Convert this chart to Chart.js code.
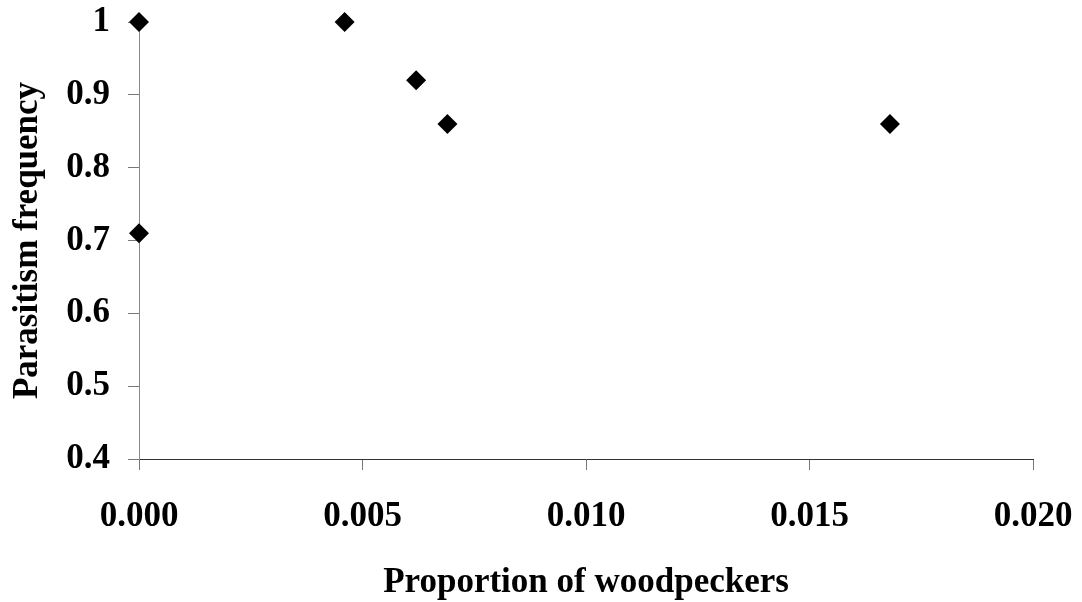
<!DOCTYPE html>
<html>
<head>
  <title>Parasitism vs woodpeckers</title>
  <script src="https://cdn.jsdelivr.net/npm/chart.js"></script>
  <style>
    html, body { margin: 0; padding: 0; background: #fff; }
    #wrap { width: 1082px; height: 602px; }
  </style>
</head>
<body>
  <div id="wrap"><canvas id="plot"></canvas></div>

  <script>
    const xValues = [0, 0, 0.0046, 0.0062, 0.0069, 0.0168];
    const yValues = [1, 0.71, 1, 0.92, 0.86, 0.86];
    const xTickLabels = ['0.000', '0.005', '0.010', '0.015', '0.020'];
    const yTickLabels = ['0.4', '0.5', '0.6', '0.7', '0.8', '0.9', '1'];

    const font = { family: 'Liberation Serif', weight: 'bold', size: 35, lineHeight: 1 };

    const ctx = document.getElementById('plot').getContext('2d');
    new Chart(ctx, {
      type: 'scatter',
      data: {
        datasets: [{
          data: xValues.map((x, i) => ({ x: x, y: yValues[i] })),
          pointStyle: 'rectRot',
          pointRadius: 10,
          pointHoverRadius: 10,
          backgroundColor: '#000',
          borderColor: '#000',
          borderWidth: 0,
          clip: false
        }]
      },
      options: {
        responsive: true,
        maintainAspectRatio: false,
        animation: false,
        events: [],
        layout: { padding: { top: 22, right: 49, left: 0, bottom: 0 } },
        plugins: { legend: { display: false }, tooltip: { enabled: false } },
        scales: {
          x: {
            type: 'linear',
            min: 0,
            max: 0.02,
            // fixed box so the plot area lands where the original's does
            afterFit: s => { s.height = 143; s.paddingLeft = 0; s.paddingRight = 0; },
            grid: { drawOnChartArea: false, tickLength: 11, tickColor: '#777' },
            border: { color: '#333', width: 1 },
            ticks: {
              stepSize: 0.005,
              padding: 29,
              color: '#000',
              font: font,
              maxRotation: 0,
              callback: (v, i) => xTickLabels[i]
            },
            title: {
              display: true,
              text: 'Proportion of woodpeckers',
              color: '#000',
              font: font,
              padding: { top: 0, bottom: 2 }
            }
          },
          y: {
            type: 'linear',
            min: 0.4,
            max: 1,
            afterFit: s => { s.width = 139; s.paddingTop = 0; s.paddingBottom = 0; },
            grid: { drawOnChartArea: false, tickLength: 11, tickColor: '#777' },
            border: { color: '#888', width: 1 },
            ticks: {
              stepSize: 0.1,
              padding: 18,
              color: '#000',
              font: font,
              callback: (v, i) => yTickLabels[i]
            },
            title: {
              display: true,
              text: 'Parasitism frequency',
              color: '#000',
              font: font,
              padding: { top: 10, bottom: 0 }
            }
          }
        }
      }
    });
  </script>
</body>
</html>
